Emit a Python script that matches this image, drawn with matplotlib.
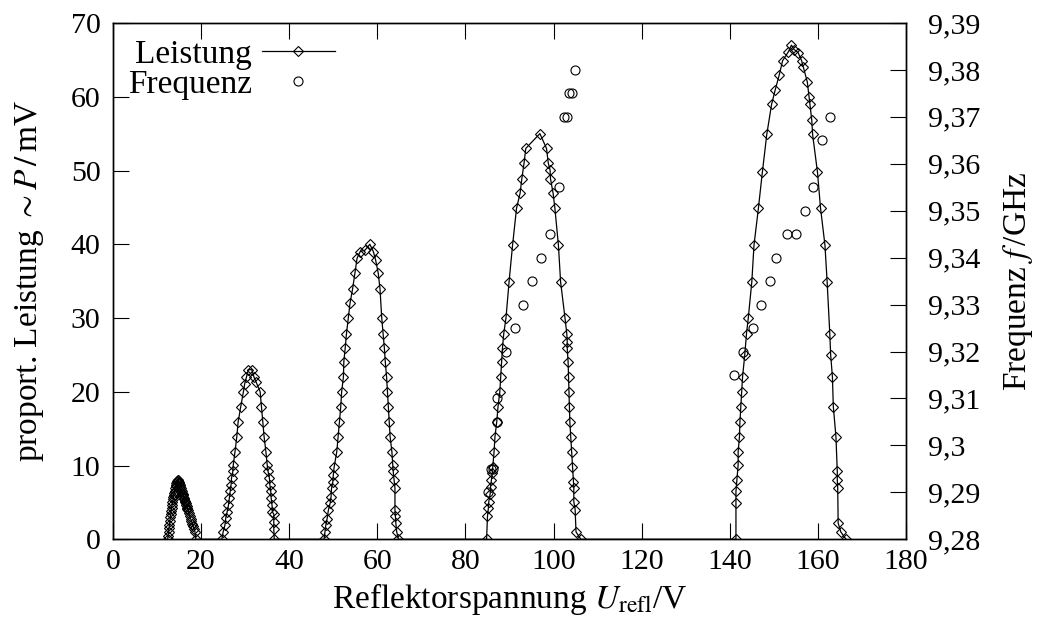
import matplotlib
matplotlib.use("Agg")
import matplotlib.pyplot as plt
from matplotlib.ticker import FuncFormatter, FixedLocator

plt.rcParams['font.family'] = ['Liberation Serif', 'DejaVu Serif']
plt.rcParams['mathtext.fontset'] = 'stix'

# Leistung (power) data: Reflektorspannung [V] vs. proport. Leistung [mV]
u_power = [
    # mode 1
    12.4, 12.5, 12.6, 12.7, 12.8, 12.9, 13.0, 13.1, 13.2, 13.3, 13.4, 13.5, 13.6, 13.7,
    13.8, 13.9, 14.0, 14.1, 14.2, 14.3, 14.4, 14.5, 14.6, 14.7, 14.8, 14.9, 15.0, 15.1,
    15.2, 15.3, 15.4, 15.5, 15.6, 15.7, 15.8, 15.9, 16.0, 16.1, 16.2, 16.3, 16.4, 16.5,
    16.6, 16.7, 16.8, 16.9, 17.0, 17.2, 17.4, 17.6, 17.8, 18.0, 18.2, 18.4, 18.6, 18.8,
    # mode 2
    24.7, 25.0, 25.4, 25.6, 25.9, 26.2, 26.4, 26.6, 26.8, 26.9, 27.2, 27.3, 27.7, 28.1,
    28.4, 29.0, 29.6, 29.9, 30.3, 30.7, 31.5, 32.0, 32.5, 33.4, 33.7, 34.0, 34.3, 34.7,
    35.0, 35.2, 35.5, 35.6, 35.8, 35.9, 36.1, 36.2, 36.5, 36.5, 36.5, 36.6,
    # mode 3
    47.9, 48.1, 48.3, 48.6, 48.9, 49.3, 49.5, 49.6, 49.9, 50.0, 50.2, 50.8, 51.1, 51.4,
    51.7, 51.9, 52.3, 52.4, 52.7, 53.0, 53.4, 53.8, 54.4, 54.9, 55.4, 56.1, 57.2, 58.3,
    59.1, 59.6, 60.2, 60.6, 61.0, 61.3, 61.6, 61.8, 62.1, 62.3, 62.5, 62.7, 62.9, 63.3,
    63.5, 63.6, 63.8, 64.0, 64.0, 64.1, 64.2, 64.4, 64.8,
    # mode 4
    84.8, 85.0, 85.2, 85.3, 85.6, 85.7, 85.9, 86.1, 86.2, 86.5, 86.7, 87.1, 87.4, 87.8,
    88.0, 88.2, 88.4, 88.7, 89.2, 89.9, 90.7, 91.6, 92.4, 92.8, 93.3, 93.7, 96.9, 98.4,
    98.8, 99.2, 99.3, 99.9, 100.3, 101.1, 101.6, 102.6, 103.0, 103.1, 103.1, 103.3, 103.4,
    103.5, 103.6, 103.7, 103.9, 104.1, 104.3, 104.5, 104.6, 104.6, 104.9, 105.1, 106.2,
    # mode 5
    141.4, 141.4, 141.4, 141.6, 141.9, 141.9, 142.2, 142.3, 142.5, 142.7, 142.9, 143.4,
    143.8, 144.2, 145.0, 145.5, 146.5, 147.4, 148.4, 149.5, 150.3, 151.2, 152.0, 153.3,
    154.0, 154.6, 155.5, 156.3, 156.7, 157.6, 158.0, 158.2, 158.6, 158.8, 159.9, 160.6,
    161.6, 162.1, 162.7, 162.9, 163.3, 163.5, 164.1, 164.4, 164.4, 164.5, 164.6, 165.2,
    166.4,
]
p_power = [
    # mode 1
    0.0, 0.5, 1.0, 1.5, 2.0, 2.5, 3.0, 3.4, 3.8, 4.2, 4.6, 5.0, 5.4, 5.7,
    6.0, 6.3, 6.6, 6.9, 7.2, 7.4, 7.6, 7.8, 7.9, 8.0, 8.0, 7.8, 7.6, 7.4,
    7.3, 7.1, 6.9, 6.7, 6.5, 6.3, 6.2, 6.0, 5.8, 5.6, 5.4, 5.2, 5.1, 4.9,
    4.7, 4.5, 4.3, 4.1, 4.0, 3.6, 3.2, 2.8, 2.5, 2.1, 1.8, 1.4, 1.0, 0.0,
    # mode 2
    0.0, 1.0, 1.9, 2.9, 3.7, 4.6, 5.6, 6.5, 7.4, 8.3, 9.2, 10.1, 11.9, 13.9,
    15.9, 18.0, 20.0, 21.1, 22.0, 23.0, 23.0, 22.0, 21.3, 20.0, 18.0, 15.9, 13.9, 11.9,
    10.1, 9.2, 8.3, 7.4, 6.5, 5.6, 4.6, 3.7, 3.4, 2.4, 1.4, 0.0,
    # mode 3
    0.0, 1.0, 1.9, 2.8, 4.0, 4.9, 5.8, 6.9, 7.8, 8.7, 9.8, 11.9, 13.9, 15.9,
    18.0, 20.0, 22.0, 24.1, 25.9, 27.9, 30.0, 32.0, 34.0, 36.1, 38.1, 39.0, 39.2, 40.0,
    39.0, 37.9, 36.1, 34.0, 30.0, 27.9, 25.9, 24.1, 22.0, 20.0, 18.0, 15.9, 13.9, 11.9,
    10.1, 9.2, 8.0, 6.9, 4.0, 3.1, 2.2, 1.0, 0.0,
    # mode 4
    0.0, 3.1, 4.2, 5.1, 6.1, 7.1, 8.0, 9.0, 9.8, 11.9, 13.9, 15.9, 18.0, 20.0,
    22.0, 24.1, 25.9, 27.9, 30.0, 34.9, 39.9, 44.9, 46.9, 48.9, 51.0, 53.0, 55.0, 53.0,
    51.0, 50.1, 48.9, 46.9, 44.9, 39.9, 34.9, 30.0, 27.9, 26.8, 25.9, 24.1, 22.0,
    20.0, 18.0, 15.9, 13.9, 11.9, 9.8, 7.8, 7.0, 5.1, 4.0, 1.0, 0.0,
    # mode 5
    0.0, 4.9, 6.5, 8.0, 10.1, 11.9, 13.9, 15.9, 18.0, 20.0, 22.0, 25.0,
    27.9, 30.0, 34.9, 39.9, 44.9, 49.8, 54.9, 59.0, 60.9, 62.9, 64.9, 66.1,
    67.0, 66.4, 66.0, 64.9, 64.0, 62.0, 60.0, 59.0, 56.9, 54.9, 49.8, 44.9,
    39.9, 34.9, 27.9, 25.0, 22.0, 18.0, 13.9, 9.2, 8.0, 6.9, 2.2, 1.0,
    0.0,
]

# Frequenz data: Reflektorspannung [V] vs. frequency [GHz]
u_freq = [85.2, 85.9, 86.2, 87.1, 87.2, 89.2, 91.2, 93.1, 95.1, 97.1, 99.2, 101.2,
          102.4, 103.1, 103.6, 104.2, 104.9,
          141.0, 143.1, 145.2, 147.1, 149.1, 150.5, 153.0, 155.0, 157.0, 158.9,
          160.9, 162.8]
f_freq = [9.290, 9.295, 9.295, 9.305, 9.310, 9.320, 9.325, 9.330, 9.335, 9.340, 9.345, 9.355,
          9.370, 9.370, 9.375, 9.375, 9.380,
          9.315, 9.320, 9.325, 9.330, 9.335, 9.340, 9.345, 9.345, 9.350, 9.355,
          9.365, 9.370]

x_ticks = [0, 20, 40, 60, 80, 100, 120, 140, 160, 180]
y_ticks = [0, 10, 20, 30, 40, 50, 60, 70]
f_ticks = [9.28, 9.29, 9.30, 9.31, 9.32, 9.33, 9.34, 9.35, 9.36, 9.37, 9.38, 9.39]

FS = 21.5
LFS = 24

fig = plt.figure(figsize=(10.41, 6.33), dpi=100)
ax = fig.add_axes([113 / 1041, 1 - 539.3 / 633, (906 - 113) / 1041, (539.3 - 23) / 633])
ax2 = ax.twinx()

l1, = ax.plot(u_power, p_power, color='black', lw=0.9, marker='D', ms=4.8,
              mfc='none', mec='black', mew=0.8, label='Leistung', zorder=3)
l2, = ax2.plot(u_freq, f_freq, ls='none', marker='o', ms=6.5, mfc='none',
               mec='black', mew=0.8, label='Frequenz')

ax.set_xlim(0, 180)
ax.set_ylim(0, 70)
ax2.set_ylim(9.28, 9.39)
ax.xaxis.set_major_locator(FixedLocator(x_ticks))
ax.yaxis.set_major_locator(FixedLocator(y_ticks))
ax2.yaxis.set_major_locator(FixedLocator(f_ticks))
ax2.yaxis.set_major_formatter(FuncFormatter(lambda v, p: ('%g' % round(v, 2)).replace('.', ',')))

for a in (ax, ax2):
    for s in a.spines.values():
        s.set_linewidth(1.0)

ax.tick_params(axis='x', direction='in', length=11.5, width=0.8, top=True,
               labelsize=FS, pad=7)
ax.tick_params(axis='y', direction='in', length=11.5, width=0.8, right=False,
               labelsize=FS, pad=9)
ax2.tick_params(axis='y', direction='in', length=11.5, width=0.8,
                labelsize=FS, pad=16)

ax.set_xlabel(r'Reflektorspannung $U_{\mathrm{refl}}$/V', fontsize=LFS, labelpad=4)
ax.set_ylabel(r'proport. Leistung $\sim P\,/\,$mV', fontsize=LFS, labelpad=18)
ax2.set_ylabel(r'Frequenz $f\,$/GHz', fontsize=LFS, labelpad=15)

leg = ax.legend(handles=[l1, l2], loc='upper left', bbox_to_anchor=(-0.015, 1.02),
                markerfirst=False, frameon=False,
                fontsize=LFS, handlelength=2.2, handletextpad=0.3, borderaxespad=0.5,
                labelspacing=-0.02, borderpad=0.3)

fig.savefig('out.png', dpi=100)
